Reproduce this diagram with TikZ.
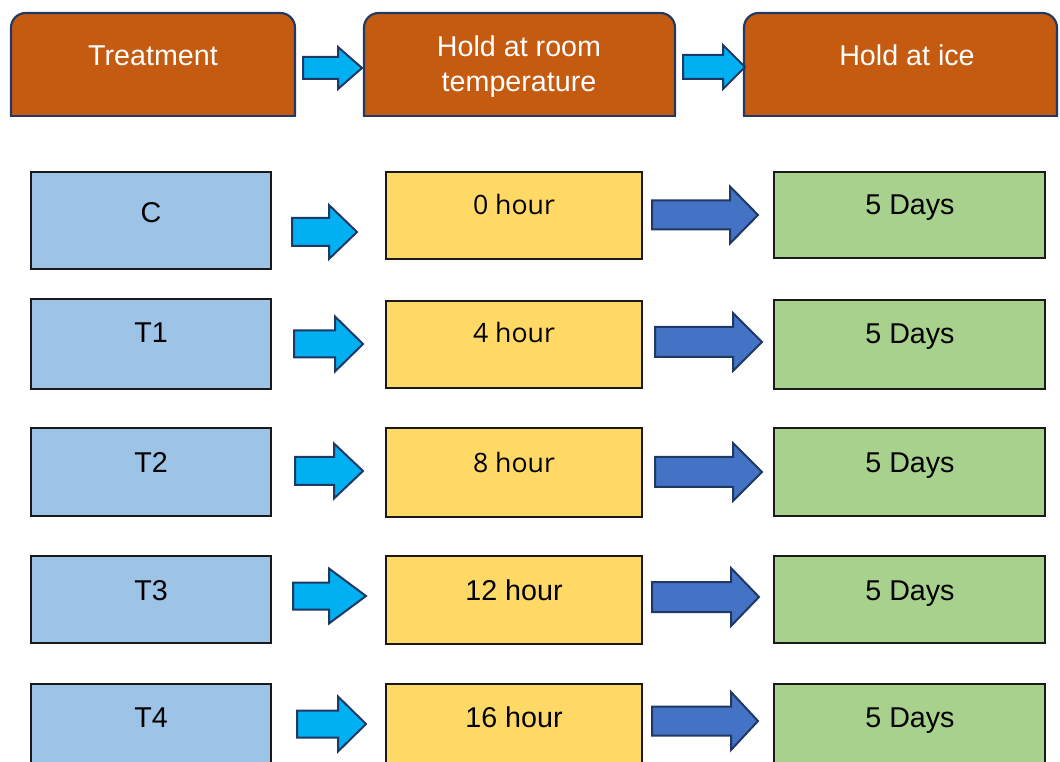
\documentclass[tikz,border=0pt]{standalone}
\usepackage{fontspec}
\setmainfont{Liberation Sans}
\newfontfamily\segoefont{Open Sans}

\definecolor{hdrorange}{HTML}{C55A11}
\definecolor{navyline}{HTML}{1F3864}
\definecolor{boxline}{HTML}{1A1A1A}
\definecolor{trtblue}{HTML}{9DC3E6}
\definecolor{roomyellow}{HTML}{FFD966}
\definecolor{icegreen}{HTML}{A9D18E}
\definecolor{lightarrow}{HTML}{00B0F0}
\definecolor{darkarrow}{HTML}{4472C4}

% block arrow: style, tail x, head x, tip x, centre y, shaft half, head half
\newcommand{\blockarrow}[7]{%
\draw [#1] (#2,#5-#6) -- (#3,#5-#6) -- (#3,#5-#7) -- (#4,#5) -- (#3,#5+#7) -- (#3,#5+#6) -- (#2,#5+#6) -- cycle ;}

\begin{document}
\begin{tikzpicture}[x=0.75pt,y=0.75pt,yscale=-1,xscale=1,
  hdr/.style={fill=hdrorange, draw=navyline, line width=1.6pt},
  trtbox/.style={fill=trtblue, draw=boxline, line width=1.7pt},
  roombox/.style={fill=roomyellow, draw=boxline, line width=1.7pt},
  icebox/.style={fill=icegreen, draw=boxline, line width=1.7pt},
  larrow/.style={fill=lightarrow, draw=navyline, line width=1.5pt},
  darrow/.style={fill=darkarrow, draw=navyline, line width=1.5pt},
  lbl/.style={anchor=base, inner sep=0pt, font=\fontsize{21.5}{25}\selectfont},
  hlbl/.style={lbl, text=white}]
\useasboundingbox (0,0) rectangle (1060,762);
\clip (0,0) rectangle (1060,762);

%Shape: Header boxes
\filldraw [hdr, rounded corners=11pt] (11,116) -- (11,13) -- (295,13) -- (295,116) ;
\draw [hdr, line cap=rect] (11,116) -- (295,116) ;
\filldraw [hdr, rounded corners=11pt] (364,116) -- (364,13) -- (675,13) -- (675,116) ;
\draw [hdr, line cap=rect] (364,116) -- (675,116) ;
\filldraw [hdr, rounded corners=11pt] (744,116) -- (744,13) -- (1057,13) -- (1057,116) ;
\draw [hdr, line cap=rect] (744,116) -- (1057,116) ;
%Shape: Header arrows
\blockarrow{larrow}{303}{338}{362}{68}{11}{21}
\blockarrow{larrow}{683}{723}{745}{67}{12}{22}

%Shape: Row C
\draw [trtbox] (31,172) rectangle (271,269) ;
\draw [roombox] (386,172) rectangle (642,259) ;
\draw [icebox] (774,172) rectangle (1045,258) ;
\blockarrow{larrow}{292}{329}{357}{232}{14}{27}
\blockarrow{darrow}{652}{730}{758}{215}{14.5}{28.5}
%Shape: Row T1
\draw [trtbox] (31,299) rectangle (271,389) ;
\draw [roombox] (386,301) rectangle (642,388) ;
\draw [icebox] (774,300) rectangle (1045,389) ;
\blockarrow{larrow}{294}{335}{363}{344}{13.5}{27.5}
\blockarrow{darrow}{655}{733}{762}{342}{15}{29}
%Shape: Row T2
\draw [trtbox] (31,428) rectangle (271,516) ;
\draw [roombox] (386,428) rectangle (642,517) ;
\draw [icebox] (774,428) rectangle (1045,516) ;
\blockarrow{larrow}{295}{334}{363}{471}{14}{27.5}
\blockarrow{darrow}{655}{733}{762}{472}{15}{29}
%Shape: Row T3
\draw [trtbox] (31,556) rectangle (271,643) ;
\draw [roombox] (386,556) rectangle (642,644) ;
\draw [icebox] (774,556) rectangle (1045,643) ;
\blockarrow{larrow}{293}{329}{366}{596}{13.5}{27.5}
\blockarrow{darrow}{652}{731}{759}{597}{15}{29}
%Shape: Row T4
\draw [trtbox] (31,684) rectangle (271,800) ;
\draw [roombox] (386,684) rectangle (642,800) ;
\draw [icebox] (774,684) rectangle (1045,800) ;
\blockarrow{larrow}{297}{338}{366}{724}{13.5}{27.5}
\blockarrow{darrow}{652}{731}{758}{721}{14.5}{29}

% Text Node
\node [hlbl] (treat) at (153,66) {Treatment};
\node [hlbl] (room1) at (519,57) {Hold at room};
\node [hlbl] (room2) at (519,92) {temperature};
\node [hlbl] (ice) at (907,66) {Hold at ice};
% Text Node
\node [lbl] (c) at (151,223) {C};
\node [lbl] (t1) at (151,343) {T1};
\node [lbl] (t2) at (151,473) {T2};
\node [lbl] (t3) at (151,600) {T3};
\node [lbl] (t4) at (151,727) {T4};
% Text Node
\node [lbl, font=\segoefont\fontsize{20}{24}\selectfont] (h0) at (514,215) {0 hour};
\node [lbl, font=\segoefont\fontsize{20}{24}\selectfont] (h4) at (514,343) {4 hour};
\node [lbl, font=\segoefont\fontsize{20}{24}\selectfont] (h8) at (514,473) {8 hour};
\node [lbl] (h12) at (514,600) {12 hour};
\node [lbl] (h16) at (514,727) {16 hour};
% Text Node
\node [lbl] (d1) at (910,215) {5 Days};
\node [lbl] (d2) at (910,344) {5 Days};
\node [lbl] (d3) at (910,473) {5 Days};
\node [lbl] (d4) at (910,600) {5 Days};
\node [lbl] (d5) at (910,727) {5 Days};

\end{tikzpicture}
\end{document}
